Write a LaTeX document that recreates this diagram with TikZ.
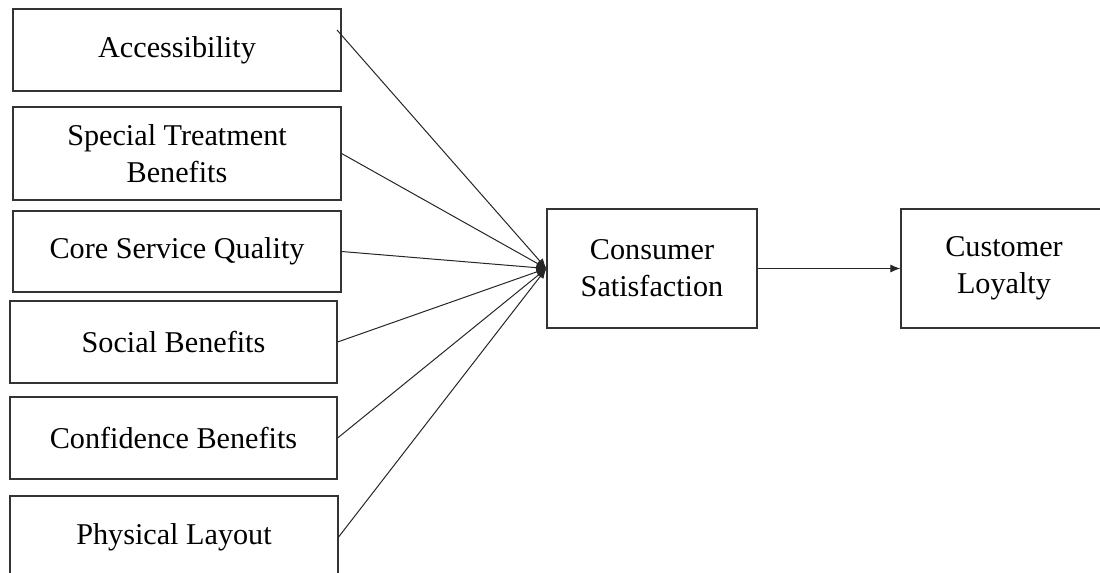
\documentclass[tikz,border=0pt]{standalone}
\usepackage{fontspec}
\setmainfont{Liberation Serif}
\usetikzlibrary{arrows.meta}
\begin{document}
\begin{tikzpicture}[x=0.5pt,y=-0.5pt,
  box/.style={draw=black!80,line width=0.6pt,rectangle,inner sep=0pt,align=center,
    font=\fontsize{15.1pt}{18.5pt}\selectfont},
  conn/.style={draw=black!85,line width=0.5pt,-{Latex[length=5pt,width=4pt]}}]
\useasboundingbox (0,0) rectangle (1100,573);
\node[box,minimum width=164pt,minimum height=41pt] (n1) at (177,50) {Accessibility};
\node[box,minimum width=164pt,minimum height=46.5pt] (n2) at (177,153.5) {Special Treatment\\Benefits};
\node[box,minimum width=164pt,minimum height=40.5pt] (n3) at (177,251.5) {Core Service Quality};
\node[box,minimum width=163.5pt,minimum height=41pt] (n4) at (173.5,342) {Social Benefits};
\node[box,minimum width=163.5pt,minimum height=41pt] (n5) at (173.5,438) {Confidence Benefits};
\node[box,minimum width=164pt,minimum height=41pt] (n6) at (174,537) {Physical Layout};
\node[box,minimum width=105pt,minimum height=59.5pt] (cs) at (652,268.5) {Consumer\\Satisfaction};
\node[box,minimum width=103pt,minimum height=59.5pt] (cl) at (1004,268.5) {Customer\\Loyalty};
\coordinate (s1) at (337,30);
\draw[conn] (s1) -- (cs.west);
\draw[conn] (n2.east) -- (cs.west);
\draw[conn] (n3.east) -- (cs.west);
\draw[conn] (n4.east) -- (cs.west);
\draw[conn] (n5.east) -- (cs.west);
\draw[conn] (n6.east) -- (cs.west);
\draw[conn] (cs.east) -- (cl.west);
\end{tikzpicture}
\end{document}
